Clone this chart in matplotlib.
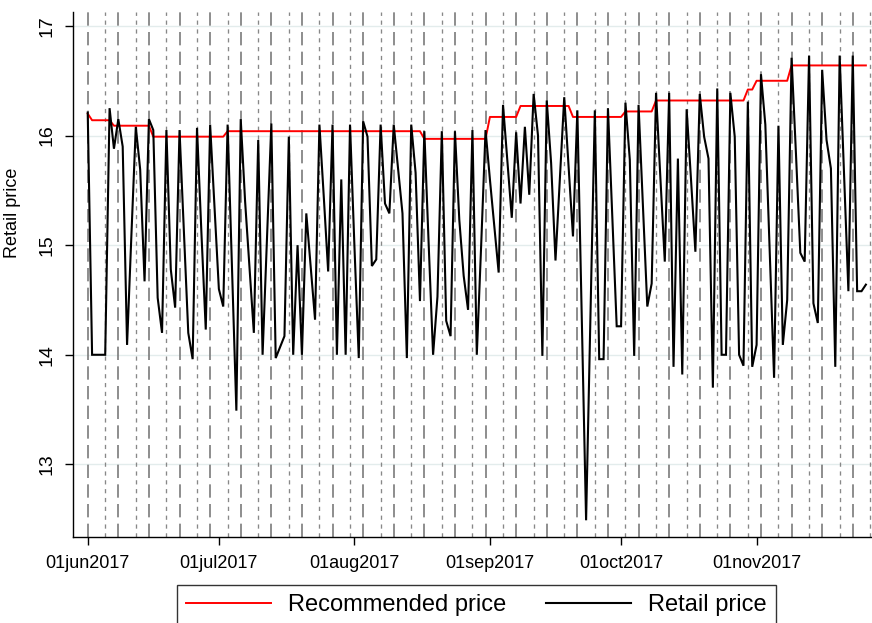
import matplotlib
matplotlib.use("Agg")
import matplotlib.pyplot as plt
import matplotlib.dates as mdates
from matplotlib.lines import Line2D
import pandas as pd
import numpy as np

plt.rcParams['font.family'] = ['Liberation Sans', 'DejaVu Sans']

start_date = "2017-06-01"

# Daily retail price, 01jun2017 .. 26nov2017
retail = [
    16.21, 14.00, 14.00, 14.00, 14.00, 16.25, 15.88,
    16.15, 15.90, 14.09, 15.10, 16.08, 15.69, 14.67,
    16.15, 16.05, 14.52, 14.20, 16.05, 14.78, 14.43,
    16.05, 15.13, 14.20, 13.96, 16.07, 15.12, 14.23,
    16.10, 15.35, 14.60, 14.44, 16.10, 14.80, 13.49,
    16.15, 15.40, 14.80, 14.20, 15.96, 14.00, 15.05,
    16.11, 13.97, 14.07, 14.17, 15.99, 14.00, 15.00,
    14.00, 15.29, 14.80, 14.32, 16.10, 15.44, 14.76,
    16.10, 14.00, 15.60, 14.00, 16.10, 15.00, 13.97,
    16.13, 15.99, 14.81, 14.87, 16.10, 15.38, 15.29,
    16.10, 15.69, 15.29, 13.97, 16.10, 15.66, 14.49,
    16.04, 15.00, 14.00, 14.53, 16.04, 14.31, 14.17,
    16.04, 15.23, 14.72, 14.41, 16.05, 14.00, 15.00,
    16.05, 15.60, 15.17, 14.75, 16.28, 15.76, 15.25,
    16.03, 15.38, 16.08, 15.46, 16.38, 16.00, 13.99,
    16.32, 15.75, 14.86, 15.60, 16.35, 15.72, 15.08,
    16.23, 14.35, 12.49, 14.38, 16.23, 13.96, 13.96,
    16.25, 15.25, 14.26, 14.26, 16.30, 15.78, 13.99,
    16.28, 15.35, 14.44, 14.65, 16.39, 15.61, 14.85,
    16.39, 13.89, 15.79, 13.82, 16.24, 15.60, 14.94,
    16.38, 15.99, 15.79, 13.70, 16.43, 14.00, 14.00,
    16.39, 15.99, 14.00, 13.90, 16.31, 13.89, 14.09,
    16.56, 16.10, 14.94, 13.79, 16.09, 14.09, 14.50,
    16.71, 15.84, 14.93, 14.85, 16.73, 14.47, 14.29,
    16.60, 15.96, 15.70, 13.89, 16.73, 15.66, 14.58,
    16.73, 14.58, 14.58, 14.64,
]

# Daily recommended price
recommended = [
    16.20, 16.14, 16.14, 16.14, 16.14, 16.14, 16.09,
    16.09, 16.09, 16.09, 16.09, 16.09, 16.09, 16.09,
    16.09, 15.99, 15.99, 15.99, 15.99, 15.99, 15.99,
    15.99, 15.99, 15.99, 15.99, 15.99, 15.99, 15.99,
    15.99, 15.99, 15.99, 15.99, 16.04, 16.04, 16.04,
    16.04, 16.04, 16.04, 16.04, 16.04, 16.04, 16.04,
    16.04, 16.04, 16.04, 16.04, 16.04, 16.04, 16.04,
    16.04, 16.04, 16.04, 16.04, 16.04, 16.04, 16.04,
    16.04, 16.04, 16.04, 16.04, 16.04, 16.04, 16.04,
    16.04, 16.04, 16.04, 16.04, 16.04, 16.04, 16.04,
    16.04, 16.04, 16.04, 16.04, 16.04, 16.04, 16.04,
    15.97, 15.97, 15.97, 15.97, 15.97, 15.97, 15.97,
    15.97, 15.97, 15.97, 15.97, 15.97, 15.97, 15.97,
    15.97, 16.17, 16.17, 16.17, 16.17, 16.17, 16.17,
    16.17, 16.27, 16.27, 16.27, 16.27, 16.27, 16.27,
    16.27, 16.27, 16.27, 16.27, 16.27, 16.27, 16.17,
    16.17, 16.17, 16.17, 16.17, 16.17, 16.17, 16.17,
    16.17, 16.17, 16.17, 16.17, 16.22, 16.22, 16.22,
    16.22, 16.22, 16.22, 16.22, 16.32, 16.32, 16.32,
    16.32, 16.32, 16.32, 16.32, 16.32, 16.32, 16.32,
    16.32, 16.32, 16.32, 16.32, 16.32, 16.32, 16.32,
    16.32, 16.32, 16.32, 16.32, 16.42, 16.42, 16.50,
    16.50, 16.50, 16.50, 16.50, 16.50, 16.50, 16.50,
    16.64, 16.64, 16.64, 16.64, 16.64, 16.64, 16.64,
    16.64, 16.64, 16.64, 16.64, 16.64, 16.64, 16.64,
    16.64, 16.64, 16.64, 16.64,
]

xtick_dates = ["2017-06-01", "2017-07-01", "2017-08-01", "2017-09-01",
               "2017-10-01", "2017-11-01"]
xtick_labels = ["01jun2017", "01jul2017", "01aug2017", "01sep2017",
                "01oct2017", "01nov2017"]
ytick_values = [13, 14, 15, 16, 17]

dates = pd.date_range(start_date, periods=len(retail), freq="D")

fig = plt.figure(figsize=(8.72, 6.23), dpi=100)
ax = fig.add_axes([0.0841, 0.1385, 0.9159, 0.8418])

t0 = mdates.date2num(pd.Timestamp(start_date))
ax.set_xlim(t0 - 3.29, t0 + 179.4)
ax.set_ylim(12.34, 17.125)

# horizontal grid
for yv in ytick_values:
    ax.axhline(yv, color="#e3ecec", lw=1.0, zorder=1)

# weekly reference lines: Thursdays long-dashed, Mondays short-dashed
line_days = pd.date_range(start_date, periods=181, freq="D")
for d in line_days:
    if d.weekday() == 3:
        ax.axvline(d, color="#7a7a7a", lw=1.2, dashes=(8.0, 3.8), zorder=2)
    elif d.weekday() == 0:
        ax.axvline(d, color="#888888", lw=0.95, dashes=(3.2, 3.5), zorder=2)

ax.plot(dates, recommended, color="#ff0000", lw=1.4, zorder=3,
        label="Recommended price")
ax.plot(dates, retail, color="black", lw=1.5, zorder=4,
        label="Retail price", solid_joinstyle="miter")

ax.set_xticks([pd.Timestamp(d) for d in xtick_dates])
ax.set_xticklabels(xtick_labels, fontsize=13)
ax.set_yticks(ytick_values)
ax.set_yticklabels([str(v) for v in ytick_values], fontsize=14,
                   rotation=90, va="center")
ax.tick_params(axis="x", length=6, width=1, pad=7, colors="black")
ax.tick_params(axis="y", length=6, width=1, pad=7, colors="black")
ax.set_ylabel("Retail price", fontsize=13)
ax.yaxis.set_label_coords(-0.066, 0.617)

for s in ["top", "right"]:
    ax.spines[s].set_visible(False)
for s in ["left", "bottom"]:
    ax.spines[s].set_linewidth(1.0)
    ax.spines[s].set_color("black")

handles = [Line2D([], [], color="#ff0000", lw=1.4),
           Line2D([], [], color="black", lw=1.5)]
leg = fig.legend(handles, ["Recommended price", "Retail price"], ncol=2,
                 loc="upper center", bbox_to_anchor=(476.5 / 872, 38 / 623),
                 borderaxespad=0, frameon=True, fancybox=False,
                 edgecolor="black", fontsize=17, handlelength=3.6,
                 handletextpad=0.7, columnspacing=1.7, borderpad=0.4)
leg.get_frame().set_linewidth(1.0)

fig.savefig("out.png", dpi=100)
